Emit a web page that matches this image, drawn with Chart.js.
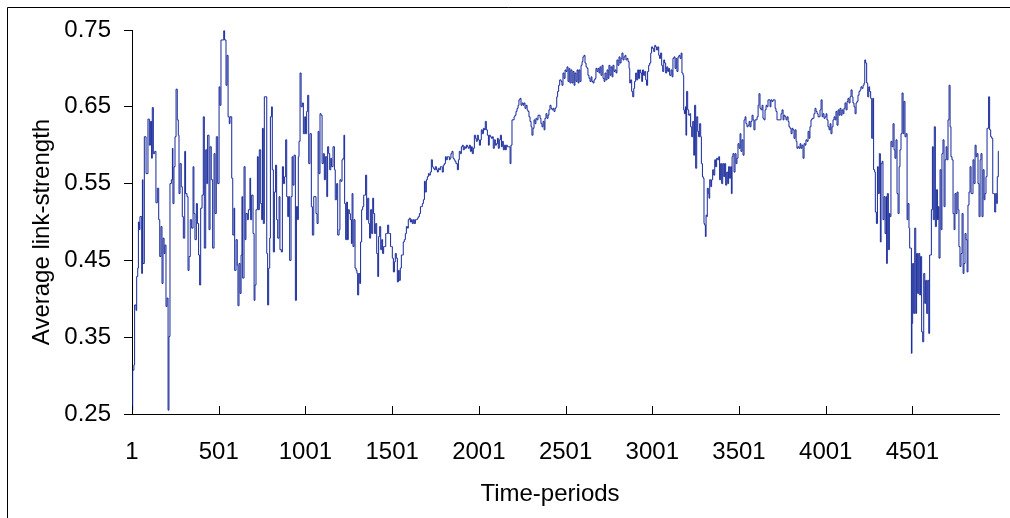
<!DOCTYPE html>
<html>
<head>
<meta charset="utf-8">
<title>Average link-strength over time</title>
<script src="https://cdn.jsdelivr.net/npm/chart.js@4.4.1/dist/chart.umd.min.js"></script>
<style>
  html, body { margin: 0; padding: 0; background: #fff; overflow: hidden; }
  #wrap { position: relative; width: 1010px; height: 518px; }
  canvas { position: absolute; left: 0; top: 0; }
</style>
</head>
<body>
<div id="wrap"><canvas id="chart" width="1010" height="518"></canvas></div>
<script>
// Time-period at which each reading is taken
const periods = [
  1, 5, 12, 16, 24, 28, 34, 38, 43, 47, 57, 61, 64, 72, 82, 93, 101, 107, 114, 118, 124, 132, 139, 147,
  155, 161, 168, 174, 180, 186, 191, 197, 203, 209, 214, 220, 228, 234, 237, 243, 249, 255, 262, 268,
  272, 278, 285, 291, 297, 305, 310, 318, 324, 330, 337, 345, 353, 358, 364, 372, 378, 385, 391, 397,
  405, 412, 418, 426, 432, 437, 445, 451, 458, 466, 474, 480, 487, 495, 503, 508, 514, 524, 530, 535,
  543, 549, 555, 562,
  566, 576, 582, 589, 593, 601, 608, 612, 618, 624, 630, 635, 639, 647, 653, 658, 666, 672, 681, 685,
  691, 699, 705, 710, 716, 724, 729, 735, 743, 749, 753, 758, 764, 774, 778, 783, 789, 795, 799, 806,
  810, 816, 822, 829, 835, 841, 849, 854, 862, 868, 874, 881, 887, 893, 899, 904, 910, 918, 924, 929,
  935, 943, 949, 956, 960, 964, 970, 976, 983, 989, 997, 1002, 1008, 1014, 1020, 1027, 1035, 1041,
  1049, 1056, 1062, 1068, 1074, 1079, 1085, 1091, 1097, 1104, 1110, 1116, 1124, 1129, 1135, 1141,
  1147, 1152, 1160, 1168, 1173, 1181, 1187, 1195,
  1200, 1206, 1212, 1218, 1223, 1227, 1233, 1239, 1243, 1248, 1254, 1260, 1266, 1270, 1275, 1281,
  1287, 1293, 1298, 1302, 1308, 1314, 1319, 1325, 1331, 1337, 1343, 1348, 1354, 1360, 1366, 1371,
  1377, 1383, 1389, 1394, 1400, 1406, 1412, 1418, 1423, 1429, 1435, 1441, 1446, 1452, 1458, 1464,
  1469, 1475, 1481, 1487, 1492, 1498, 1502, 1508, 1514, 1519, 1525, 1531, 1537, 1542, 1548, 1554,
  1560, 1565, 1571, 1577, 1583, 1589, 1594, 1600, 1606, 1612, 1617, 1623, 1629, 1635, 1640, 1646,
  1652, 1658, 1664, 1669, 1675, 1681, 1687, 1692, 1698, 1704, 1710, 1715, 1721, 1727, 1733, 1738,
  1744, 1750, 1756, 1762, 1767, 1773, 1779, 1785, 1790, 1796, 1802, 1808, 1813, 1819, 1825, 1831,
  1835, 1840, 1846, 1852, 1858, 1863, 1869, 1877, 1883, 1888, 1894, 1900, 1906, 1911, 1917, 1923,
  1929, 1935, 1940, 1946, 1952, 1958, 1963, 1969, 1975, 1981, 1986, 1992, 1998, 2004, 2010, 2015,
  2021, 2027, 2033, 2038, 2044, 2050, 2056, 2061, 2067, 2073, 2079, 2084, 2090, 2096, 2102, 2108,
  2113, 2119, 2125, 2131, 2136, 2142, 2148, 2154, 2159, 2165, 2171, 2177, 2181, 2186, 2192, 2198,
  2204, 2209, 2215, 2221, 2227, 2232, 2238, 2244, 2250, 2256, 2261, 2267, 2273, 2279, 2284, 2290,
  2296, 2302, 2307, 2313, 2319, 2325, 2330, 2336, 2342, 2348, 2354, 2359, 2365, 2371, 2377, 2382,
  2388, 2394, 2400, 2405, 2411, 2417, 2423, 2429, 2434, 2440, 2446, 2450, 2455, 2461, 2467,
  2475, 2480, 2486, 2492, 2498, 2503, 2509, 2515, 2521, 2526, 2532, 2538, 2544, 2550, 2555, 2561,
  2567, 2573, 2578, 2584, 2590, 2596, 2601, 2607, 2613, 2619, 2625, 2630, 2636, 2642, 2648, 2653,
  2659, 2665, 2671, 2676, 2682, 2688, 2694, 2699, 2705, 2711, 2717, 2723, 2728, 2734, 2740, 2746,
  2751, 2757, 2763, 2769, 2774, 2780, 2786, 2792, 2797, 2803, 2809, 2815, 2821, 2826, 2832, 2838,
  2844, 2849, 2855, 2861, 2867, 2871, 2876, 2882, 2888, 2894, 2899, 2905, 2911, 2917, 2922, 2928,
  2934, 2940, 2945, 2951, 2957, 2963, 2968, 2974, 2980, 2986, 2992, 2997, 3003, 3009, 3015, 3020,
  3026, 3032, 3038, 3043, 3049, 3055, 3061, 3067, 3072, 3078, 3084, 3090, 3095, 3101,
  3109, 3115, 3120, 3126, 3132, 3138, 3143, 3149, 3155, 3161, 3167, 3172, 3178, 3182, 3186, 3192,
  3195, 3199, 3205, 3211, 3217, 3222, 3228, 3234, 3240, 3245, 3251, 3257, 3263, 3268, 3274, 3280,
  3284, 3290, 3295, 3299, 3303, 3307, 3311, 3315, 3318, 3324, 3328, 3332, 3338, 3343, 3349, 3355,
  3361, 3366, 3372, 3378, 3384, 3389, 3395, 3401, 3407, 3413, 3418, 3424, 3430, 3436, 3441, 3447,
  3453, 3457, 3461, 3466, 3472, 3478, 3484, 3489, 3495, 3501, 3507, 3512, 3518, 3524, 3530, 3536,
  3541, 3547, 3553, 3559, 3564, 3570, 3576, 3582, 3587, 3593, 3599, 3605, 3611, 3616, 3622, 3628,
  3634, 3639, 3645, 3651, 3657, 3662, 3668, 3674, 3680, 3685, 3691, 3697, 3703, 3709, 3714, 3720,
  3726, 3732,
  3737, 3743, 3749, 3755, 3760, 3766, 3772, 3778, 3784, 3789, 3795, 3801, 3807, 3812, 3818, 3824,
  3830, 3835, 3841, 3847, 3853, 3858, 3864, 3870, 3876, 3882, 3887, 3893, 3899, 3905, 3910, 3916,
  3922, 3928, 3933, 3939, 3945, 3951, 3957, 3962, 3968, 3974, 3980, 3985, 3991, 3997, 4003, 4008,
  4014, 4020, 4026, 4031, 4037, 4043, 4049, 4055, 4060, 4066, 4072, 4078, 4083, 4089, 4095, 4101,
  4106, 4112, 4118, 4124, 4129, 4135, 4141, 4147, 4153, 4158, 4164, 4170, 4176, 4181, 4187, 4193,
  4199, 4204, 4210, 4216, 4222, 4226, 4231, 4237, 4243, 4249, 4254, 4260, 4266, 4272, 4277, 4283,
  4287, 4293, 4299, 4304, 4310, 4316, 4320, 4326, 4331, 4337, 4343, 4349, 4352, 4356, 4362, 4368,
  4372, 4377, 4383, 4389, 4395, 4400, 4406, 4412, 4418, 4424, 4429, 4435, 4441, 4447, 4452, 4458,
  4464, 4470, 4475, 4481, 4485, 4491, 4495, 4498, 4502, 4508, 4514, 4520, 4525, 4531, 4537, 4543,
  4548, 4554, 4560, 4566, 4572, 4577, 4583, 4589, 4595, 4600, 4606, 4610, 4616, 4621, 4627, 4633,
  4639, 4645, 4650, 4654, 4660, 4666, 4671, 4677, 4683, 4689, 4695, 4700, 4706, 4712, 4718, 4723,
  4729, 4735, 4741, 4746, 4752, 4758, 4764, 4769, 4775, 4781, 4787, 4793, 4798, 4804, 4810, 4816,
  4821, 4827, 4833, 4839, 4844, 4850, 4856, 4862, 4868, 4873, 4879, 4885, 4891, 4896, 4902, 4908,
  4914, 4919, 4925, 4931, 4937, 4940, 4946, 4952, 4958, 4964, 4969, 4975, 4981, 4987, 4990, 4996,
  5000
];

// Average link-strength recorded at each of those periods
const strength = [
  0.255, 0.307, 0.314, 0.392, 0.385, 0.429, 0.440, 0.500, 0.490, 0.507, 0.433, 0.555, 0.446, 0.611, 0.563, 0.634,
  0.600, 0.631, 0.583, 0.649, 0.589, 0.592, 0.525, 0.544, 0.503, 0.455, 0.494, 0.420, 0.479, 0.459, 0.470, 0.390,
  0.401, 0.255, 0.351, 0.550, 0.555, 0.596, 0.524, 0.572, 0.611, 0.673, 0.633, 0.613, 0.537, 0.576, 0.546, 0.507,
  0.479, 0.592, 0.537, 0.533, 0.437, 0.455, 0.503, 0.492, 0.572, 0.511, 0.477, 0.524, 0.498, 0.457, 0.418, 0.518,
  0.535, 0.637, 0.466, 0.594, 0.550, 0.613, 0.490, 0.598, 0.555, 0.466, 0.589, 0.511, 0.611, 0.550, 0.676, 0.652,
  0.737, 0.737, 0.749, 0.737, 0.678, 0.717, 0.637, 0.628,
  0.637, 0.557, 0.483, 0.518, 0.437, 0.477, 0.444, 0.391, 0.446, 0.407, 0.457, 0.533, 0.427, 0.572, 0.477, 0.511,
  0.503, 0.516, 0.557, 0.503, 0.535, 0.485, 0.398, 0.418, 0.516, 0.585, 0.516, 0.594, 0.524, 0.503, 0.622, 0.498,
  0.663, 0.663, 0.459, 0.392, 0.440, 0.479, 0.637, 0.650, 0.568, 0.461, 0.539, 0.574, 0.503, 0.479, 0.533, 0.464,
  0.461, 0.572, 0.550, 0.559, 0.607, 0.533, 0.507, 0.533, 0.450, 0.533, 0.585, 0.548, 0.587, 0.398, 0.520, 0.503,
  0.585, 0.605, 0.694, 0.650, 0.655, 0.615, 0.637, 0.615, 0.644, 0.665, 0.576, 0.615, 0.520, 0.483, 0.533, 0.533,
  0.511, 0.498, 0.618, 0.563, 0.641, 0.639, 0.576, 0.589, 0.555, 0.585, 0.533, 0.598, 0.589, 0.568, 0.583, 0.572,
  0.598, 0.568, 0.529, 0.550, 0.483, 0.490,
  0.555, 0.553, 0.581, 0.583, 0.613, 0.524, 0.477, 0.526, 0.477, 0.516, 0.511, 0.503, 0.472, 0.537, 0.468, 0.503,
  0.440, 0.437, 0.433, 0.405, 0.433, 0.420, 0.474, 0.516, 0.520, 0.535, 0.535, 0.561, 0.503, 0.531, 0.498, 0.479,
  0.516, 0.485, 0.531, 0.511, 0.485, 0.498, 0.459, 0.429, 0.481, 0.494, 0.464, 0.477, 0.459, 0.468, 0.468, 0.485,
  0.485, 0.496, 0.485, 0.485, 0.468, 0.468, 0.453, 0.435, 0.448, 0.459, 0.453, 0.422, 0.437, 0.424, 0.440, 0.457,
  0.457, 0.474, 0.477, 0.485, 0.494, 0.492, 0.503, 0.505, 0.500, 0.503, 0.498, 0.503, 0.498, 0.503, 0.503, 0.505,
  0.507, 0.511, 0.520, 0.520, 0.524, 0.529, 0.553, 0.539, 0.555, 0.559, 0.563, 0.561, 0.565, 0.581, 0.572, 0.570,
  0.568, 0.572, 0.568, 0.565, 0.570, 0.568, 0.572, 0.572, 0.565, 0.574, 0.576, 0.585, 0.581, 0.585, 0.585, 0.581,
  0.583, 0.589, 0.592, 0.583, 0.581, 0.579, 0.576, 0.568, 0.581, 0.592, 0.589, 0.598, 0.600, 0.594, 0.598, 0.596,
  0.600, 0.598, 0.596, 0.600, 0.592, 0.598, 0.589, 0.596, 0.613, 0.609, 0.605, 0.613, 0.607, 0.600, 0.607, 0.620,
  0.615, 0.622, 0.620, 0.631, 0.620, 0.613, 0.600, 0.613, 0.611, 0.609, 0.611, 0.596, 0.607, 0.600, 0.602, 0.609,
  0.596, 0.607, 0.613, 0.598, 0.605, 0.594, 0.600, 0.594, 0.600, 0.598, 0.598, 0.598, 0.576, 0.600, 0.633, 0.633,
  0.637, 0.639, 0.644, 0.648, 0.652, 0.659, 0.661, 0.652, 0.655, 0.652, 0.655, 0.648, 0.652, 0.646, 0.644, 0.637,
  0.631, 0.624, 0.613, 0.622, 0.633, 0.628, 0.635, 0.633, 0.639, 0.639, 0.635, 0.628, 0.624, 0.631, 0.620, 0.635,
  0.641, 0.635, 0.639, 0.646, 0.652, 0.648, 0.646, 0.648, 0.644, 0.648, 0.650, 0.663, 0.670, 0.678, 0.685,
  0.683, 0.678, 0.694, 0.687, 0.698, 0.696, 0.702, 0.683, 0.700, 0.681, 0.698, 0.681, 0.696, 0.678, 0.694, 0.683,
  0.698, 0.681, 0.698, 0.683, 0.704, 0.709, 0.715, 0.717, 0.707, 0.702, 0.700, 0.691, 0.687, 0.683, 0.689, 0.683,
  0.681, 0.685, 0.687, 0.700, 0.696, 0.700, 0.694, 0.702, 0.691, 0.704, 0.687, 0.683, 0.694, 0.685, 0.698, 0.687,
  0.704, 0.691, 0.702, 0.689, 0.704, 0.696, 0.698, 0.694, 0.711, 0.704, 0.715, 0.707, 0.713, 0.720, 0.711, 0.715,
  0.717, 0.711, 0.713, 0.709, 0.700, 0.681, 0.685, 0.670, 0.663, 0.674, 0.683, 0.694, 0.685, 0.698, 0.687, 0.698,
  0.694, 0.683, 0.698, 0.691, 0.696, 0.685, 0.678, 0.696, 0.704, 0.707, 0.720, 0.728, 0.726, 0.722, 0.730, 0.728,
  0.724, 0.728, 0.717, 0.713, 0.720, 0.704, 0.696, 0.711, 0.707, 0.694, 0.702, 0.696, 0.700, 0.691,
  0.698, 0.689, 0.713, 0.715, 0.700, 0.713, 0.696, 0.715, 0.717, 0.713, 0.720, 0.694, 0.691, 0.646, 0.641, 0.650,
  0.613, 0.670, 0.646, 0.639, 0.641, 0.624, 0.611, 0.631, 0.587, 0.652, 0.570, 0.637, 0.618, 0.611, 0.628, 0.611,
  0.576, 0.559, 0.557, 0.498, 0.496, 0.481, 0.509, 0.507, 0.544, 0.537, 0.531, 0.555, 0.546, 0.555, 0.568, 0.561,
  0.581, 0.572, 0.583, 0.581, 0.585, 0.555, 0.576, 0.550, 0.576, 0.559, 0.576, 0.548, 0.565, 0.550, 0.572, 0.557,
  0.572, 0.537, 0.585, 0.589, 0.565, 0.589, 0.576, 0.583, 0.602, 0.596, 0.615, 0.592, 0.607, 0.587, 0.633, 0.637,
  0.628, 0.624, 0.626, 0.631, 0.624, 0.631, 0.639, 0.633, 0.620, 0.633, 0.633, 0.637, 0.652, 0.667, 0.648, 0.646,
  0.652, 0.635, 0.633, 0.646, 0.652, 0.650, 0.659, 0.659, 0.650, 0.659, 0.657, 0.659, 0.659, 0.648, 0.644, 0.633,
  0.633, 0.633,
  0.633, 0.641, 0.646, 0.633, 0.639, 0.637, 0.633, 0.637, 0.631, 0.624, 0.622, 0.615, 0.622, 0.620, 0.609, 0.620,
  0.605, 0.596, 0.598, 0.596, 0.602, 0.596, 0.600, 0.583, 0.602, 0.600, 0.607, 0.605, 0.618, 0.609, 0.624, 0.633,
  0.635, 0.635, 0.641, 0.648, 0.644, 0.641, 0.637, 0.637, 0.646, 0.659, 0.637, 0.641, 0.635, 0.637, 0.641, 0.633,
  0.624, 0.620, 0.628, 0.615, 0.624, 0.633, 0.637, 0.633, 0.644, 0.626, 0.646, 0.639, 0.648, 0.639, 0.646, 0.641,
  0.648, 0.655, 0.646, 0.657, 0.661, 0.655, 0.663, 0.672, 0.663, 0.655, 0.650, 0.641, 0.655, 0.657, 0.665, 0.670,
  0.672, 0.676, 0.674, 0.678, 0.681, 0.711, 0.707, 0.681, 0.663, 0.676, 0.670, 0.661, 0.609, 0.661, 0.568, 0.565,
  0.513, 0.498, 0.572, 0.537, 0.589, 0.474, 0.576, 0.579, 0.503, 0.533, 0.485, 0.533, 0.446, 0.537, 0.464, 0.511,
  0.507, 0.605, 0.598, 0.628, 0.594, 0.583, 0.607, 0.537, 0.511, 0.572, 0.594, 0.615, 0.668, 0.615, 0.657, 0.611,
  0.615, 0.503, 0.524, 0.492, 0.466, 0.466, 0.329, 0.368, 0.446, 0.381, 0.492, 0.381, 0.459, 0.407, 0.459, 0.405,
  0.455, 0.357, 0.344, 0.433, 0.394, 0.424, 0.381, 0.424, 0.355, 0.457, 0.457, 0.516, 0.598, 0.503, 0.624, 0.494,
  0.542, 0.503, 0.520, 0.453, 0.568, 0.490, 0.589, 0.607, 0.520, 0.581, 0.598, 0.581, 0.633, 0.678, 0.624, 0.585,
  0.581, 0.511, 0.490, 0.537, 0.511, 0.539, 0.516, 0.468, 0.442, 0.459, 0.511, 0.433, 0.446, 0.485, 0.477, 0.435,
  0.522, 0.539, 0.572, 0.537, 0.537, 0.581, 0.550, 0.600, 0.585, 0.589, 0.550, 0.507, 0.581, 0.589, 0.507, 0.568,
  0.529, 0.537, 0.559, 0.622, 0.622, 0.663, 0.620, 0.611, 0.609, 0.537, 0.537, 0.513, 0.537, 0.524, 0.559, 0.592,
  0.592
];

// Axis tick labels
const periodTicks = [1, 501, 1001, 1501, 2001, 2501, 3001, 3501, 4001, 4501];
const strengthTicks = [0.25, 0.35, 0.45, 0.55, 0.65, 0.75];

const xTitle = 'Time-periods';
const yTitle = 'Average link-strength';

const FONT_FAMILY = '"Liberation Sans", Arial, Helvetica, sans-serif';
const LINE_COLOR = '#16289a';

// Frame, inward x-axis tick marks and axis titles
const decorations = {
  id: 'decorations',
  afterDraw(chart) {
    const { ctx, chartArea, scales } = chart;
    ctx.save();
    // outer frame (top and left edges)
    ctx.strokeStyle = '#000';
    ctx.lineWidth = 1;
    ctx.beginPath();
    ctx.moveTo(7.5, 518);
    ctx.lineTo(7.5, 7.5);
    ctx.lineTo(1010, 7.5);
    ctx.stroke();

    // x-axis tick marks pointing up into the plot area
    ctx.beginPath();
    periodTicks.forEach(v => {
      const px = Math.round(scales.x.getPixelForValue(v)) + 0.5;
      ctx.moveTo(px, chartArea.bottom);
      ctx.lineTo(px, chartArea.bottom - 8);
    });
    ctx.stroke();

    // axis titles
    ctx.fillStyle = '#000';
    ctx.font = '24px ' + FONT_FAMILY;
    ctx.textAlign = 'center';
    ctx.textBaseline = 'middle';
    ctx.fillText(xTitle, 550, 494);
    ctx.translate(42, 232);
    ctx.rotate(-Math.PI / 2);
    ctx.fillText(yTitle, 0, 0);
    ctx.restore();
  }
};

const points = periods.map((t, i) => ({ x: t, y: strength[i] }));

new Chart(document.getElementById('chart'), {
  type: 'line',
  data: {
    datasets: [{
      data: points,
      borderColor: LINE_COLOR,
      borderWidth: 1,
      pointRadius: 0,
      stepped: true,
      fill: false
    }]
  },
  options: {
    responsive: false,
    animation: false,
    devicePixelRatio: 1,
    layout: { padding: { left: 0, right: 11, top: 30, bottom: 0 } },
    plugins: { legend: { display: false }, tooltip: { enabled: false } },
    scales: {
      x: {
        type: 'linear',
        min: 1,
        max: 5000,
        afterBuildTicks: s => { s.ticks = periodTicks.map(v => ({ value: v })); },
        afterFit: s => { s.height = 104; },
        ticks: {
          autoSkip: false,
          maxRotation: 0,
          padding: 24,
          color: '#000',
          font: { family: FONT_FAMILY, size: 24 },
          callback: v => String(v)
        },
        grid: { drawOnChartArea: false, drawTicks: false },
        border: { color: '#000', width: 1 }
      },
      y: {
        min: 0.25,
        max: 0.75,
        afterBuildTicks: s => { s.ticks = strengthTicks.map(v => ({ value: v })); },
        afterFit: s => { s.width = 132; },
        ticks: {
          padding: 13,
          color: '#000',
          font: { family: FONT_FAMILY, size: 24 },
          callback: v => Number(v).toFixed(2)
        },
        grid: { drawOnChartArea: false, drawTicks: true, tickLength: 8, color: '#000' },
        border: { color: '#000', width: 1 }
      }
    }
  },
  plugins: [decorations]
});
</script>
</body>
</html>
